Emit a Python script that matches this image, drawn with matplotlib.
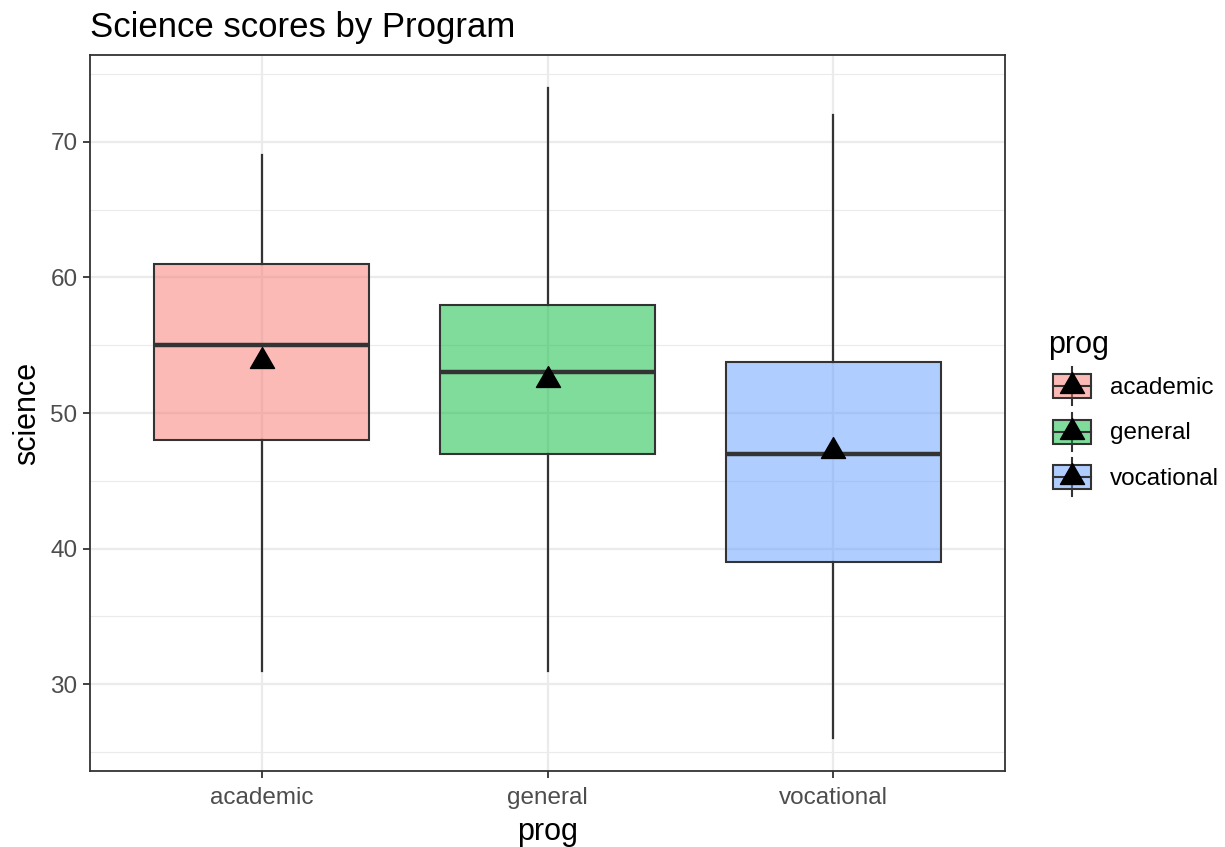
#!/usr/bin/env python3
"""Science scores by Program - ggplot style boxplot"""

import matplotlib
matplotlib.use("Agg")
import matplotlib.pyplot as plt
from matplotlib.legend_handler import HandlerBase
from matplotlib.patches import Rectangle, Patch
from matplotlib.lines import Line2D
from matplotlib.path import Path
from matplotlib.ticker import MultipleLocator

plt.rcParams['font.family'] = ['Liberation Sans', 'DejaVu Sans']

programs = ['academic', 'general', 'vocational']
whisker_low = [31, 31, 26]
q1 = [48, 47, 39]
median = [55, 53, 47]
q3 = [61, 58, 53.75]
whisker_high = [69, 74, 72]
means = [53.8, 52.44, 47.22]
colors = ['#F8766D', '#00BA38', '#619CFF']

EDGE = '#333333'
# triangle centred on its centroid, like R's pch 17
TRI = Path([(0, 2), (-1.732, -1), (1.732, -1), (0, 2)],
           [Path.MOVETO, Path.LINETO, Path.LINETO, Path.CLOSEPOLY])


class BoxKeyHandler(HandlerBase):
    def __init__(self, color):
        super().__init__()
        self.color = color

    def create_artists(self, legend, orig_handle, xdescent, ydescent,
                       width, height, fontsize, trans):
        cx = width / 2 - xdescent + 3.6   # keys sit a bit right of the title
        cy = height / 2 - ydescent
        bw, bh = width, height * 0.63
        arts = []
        arts.append(Line2D([cx, cx], [cy - height / 2, cy + height / 2],
                           color=EDGE, lw=1.5, transform=trans))
        arts.append(Rectangle((cx - bw / 2, cy - bh / 2), bw, bh,
                              facecolor=self.color, alpha=0.5, edgecolor='none',
                              transform=trans))
        arts.append(Rectangle((cx - bw / 2, cy - bh / 2), bw, bh,
                              facecolor='none', edgecolor=EDGE, lw=1.5,
                              transform=trans))
        arts.append(Line2D([cx - bw / 2, cx + bw / 2], [cy, cy],
                           color=EDGE, lw=1.5, transform=trans))
        arts.append(Line2D([cx], [cy], marker=TRI, markersize=20,
                           color='black', linestyle='none', transform=trans))
        return arts


def main():
    fig = plt.figure(figsize=(12.25, 8.47), dpi=100)
    ax = fig.add_axes([90 / 1225, 1 - 771 / 847, 915 / 1225, 716 / 847])

    stats = []
    for i, p in enumerate(programs):
        stats.append(dict(label=p, whislo=whisker_low[i], q1=q1[i],
                          med=median[i], q3=q3[i], whishi=whisker_high[i],
                          mean=means[i], fliers=[]))
    pos = [1, 2, 3]
    bp = ax.bxp(stats, positions=pos, widths=0.75, patch_artist=True,
                showcaps=False, showmeans=True, showfliers=False,
                boxprops=dict(edgecolor=EDGE, linewidth=1.5),
                whiskerprops=dict(color=EDGE, linewidth=1.6),
                medianprops=dict(color=EDGE, linewidth=3.2),
                meanprops=dict(marker=TRI, markerfacecolor='black',
                               markeredgecolor='black', markersize=20),
                zorder=3)
    for patch, c in zip(bp['boxes'], colors):
        patch.set_facecolor(matplotlib.colors.to_rgba(c, 0.5))

    ax.set_xlim(0.4, 3.6)
    ax.set_ylim(23.6, 76.4)
    ax.set_xticks(pos)
    ax.set_xticklabels(programs)
    ax.yaxis.set_major_locator(MultipleLocator(10))
    ax.yaxis.set_minor_locator(MultipleLocator(5))
    ax.grid(which='major', color='#EBEBEB', linewidth=1.6, zorder=0)
    ax.grid(which='minor', axis='y', color='#EBEBEB', linewidth=0.8, zorder=0)
    ax.set_axisbelow(True)
    ax.tick_params(which='minor', length=0)
    ax.tick_params(which='major', length=5, width=1.3, color=EDGE, pad=4,
                   labelsize=17.5, labelcolor='#4D4D4D')
    ax.tick_params(axis='x', which='major', pad=6.5)
    for s in ax.spines.values():
        s.set_color(EDGE)
        s.set_linewidth(1.3)

    ax.set_xlabel('prog', fontsize=22, labelpad=6)
    ax.set_ylabel('science', fontsize=22, labelpad=6)
    ax.set_title('Science scores by Program', fontsize=25, loc='left',
                 pad=13)

    handles = [Patch(label=p) for p in programs]
    handler_map = {h: BoxKeyHandler(c) for h, c in zip(handles, colors)}
    leg = ax.legend(handles=handles, handler_map=handler_map, title='prog',
                    loc='center left', bbox_to_anchor=(1.047, 0.5),
                    frameon=False, fontsize=17.5, title_fontsize=22,
                    handlelength=1.56, handleheight=2.03, labelspacing=0.3,
                    handletextpad=0.99, borderaxespad=0, borderpad=0)
    leg._legend_box.align = 'left'

    plt.savefig('out.png', dpi=100)


if __name__ == "__main__":
    main()
